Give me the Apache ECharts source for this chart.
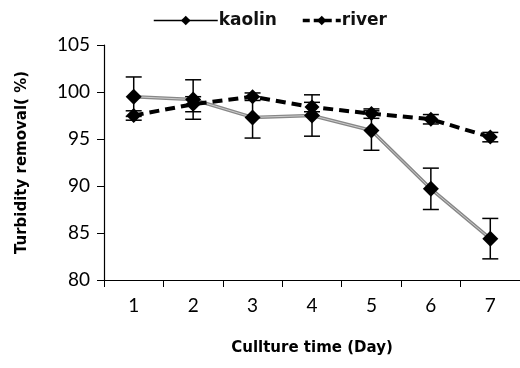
<!DOCTYPE html>
<html>
<head>
<meta charset="utf-8">
<script src="https://cdn.jsdelivr.net/npm/echarts@6/dist/echarts.min.js"></script>
<style>
  html, body { margin: 0; padding: 0; background: #fff; }
  #chart { width: 520px; height: 368px; }
</style>
</head>
<body>
<div id="chart"></div>
<script>
// 数据
var days = ['1', '2', '3', '4', '5', '6', '7'];
var kaolin = [99.5, 99.2, 97.3, 97.5, 95.9, 89.7, 84.4];
var kaolinErr = [2.1, 2.1, 2.2, 2.2, 2.1, 2.2, 2.15];
var river = [97.5, 98.7, 99.5, 98.4, 97.7, 97.1, 95.2];
var riverErr = [0.5, 0.8, 0.4, 0.5, 0.5, 0.5, 0.5];
var yTicks = [80, 85, 90, 95, 100, 105];

var font = 'Lato, "Open Sans", sans-serif';
var titleFont = '"DejaVu Sans", sans-serif';

function errBars(vals, errs) {
  return vals.map(function (v, i) { return [i, v - errs[i], v + errs[i]]; });
}

function errRender(params, api) {
  var x = api.value(0);
  var lo = api.coord([x, api.value(1)]);
  var hi = api.coord([x, api.value(2)]);
  var w = 8;
  var st = { stroke: '#000', lineWidth: 1.5 };
  return {
    type: 'group',
    children: [
      { type: 'line', shape: { x1: hi[0], y1: hi[1], x2: lo[0], y2: lo[1] }, style: st },
      { type: 'line', shape: { x1: hi[0] - w, y1: hi[1], x2: hi[0] + w, y2: hi[1] }, style: st },
      { type: 'line', shape: { x1: lo[0] - w, y1: lo[1], x2: lo[0] + w, y2: lo[1] }, style: st }
    ]
  };
}

var legendText = { fontSize: 17, fontWeight: 'bold', color: '#111', fontFamily: titleFont, padding: [0, 0, 0, -4] };

var chart = echarts.init(document.getElementById('chart'));
chart.setOption({
  animation: false,
  textStyle: { fontFamily: font },
  legend: [
    {
      top: 7,
      left: 148,
      itemWidth: 64,
      itemHeight: 12,
      textStyle: legendText,
      data: [{ name: 'kaolin', lineStyle: { color: '#000', width: 1.5 } }]
    },
    {
      top: 7,
      left: 296,
      itemWidth: 38,
      itemHeight: 12,
      textStyle: legendText,
      data: [{ name: 'river', lineStyle: { color: '#000', width: 3.5, type: [7, 4] } }]
    }
  ],
  grid: { left: 104, top: 45, right: -4, bottom: 88 },
  xAxis: {
    type: 'category',
    data: days,
    boundaryGap: true,
    name: 'Cullture time (Day)',
    nameLocation: 'middle',
    nameGap: 61,
    nameTextStyle: { fontSize: 15, fontWeight: 'bold', color: '#000', fontFamily: titleFont },
    axisLine: { lineStyle: { color: '#000', width: 1.2 } },
    axisTick: { show: true, length: 7, lineStyle: { color: '#000' } },
    axisLabel: { fontSize: 19, color: '#000', margin: 16 }
  },
  yAxis: {
    type: 'value',
    min: yTicks[0],
    max: yTicks[yTicks.length - 1],
    interval: 5,
    name: 'Turbidity removal( %)',
    nameLocation: 'middle',
    nameGap: 74,
    nameTextStyle: { fontSize: 15, fontWeight: 'bold', color: '#000', fontFamily: titleFont },
    splitLine: { show: false },
    axisLine: { show: true, lineStyle: { color: '#000', width: 1.2 } },
    axisTick: { show: true, length: 7, lineStyle: { color: '#000' } },
    axisLabel: { fontSize: 19, color: '#000', margin: 14 }
  },
  series: [
    {
      name: 'kaolin',
      type: 'line',
      data: kaolin,
      symbol: 'diamond',
      symbolSize: 16,
      itemStyle: { color: '#000' },
      lineStyle: { color: '#888', width: 3.5 },
      z: 3
    },
    {
      name: 'kaolin-inner',
      type: 'line',
      data: kaolin,
      symbol: 'none',
      lineStyle: { color: '#ccc', width: 1 },
      silent: true,
      z: 3
    },
    {
      name: 'river',
      type: 'line',
      data: river,
      symbol: 'diamond',
      symbolSize: 15,
      itemStyle: { color: '#000' },
      lineStyle: { color: '#000', width: 4, type: [10, 6] },
      z: 4
    },
    {
      type: 'custom',
      data: errBars(kaolin, kaolinErr),
      renderItem: errRender,
      encode: { x: 0, y: [1, 2] },
      z: 2,
      silent: true
    },
    {
      type: 'custom',
      data: errBars(river, riverErr),
      renderItem: errRender,
      encode: { x: 0, y: [1, 2] },
      z: 2,
      silent: true
    }
  ]
});
</script>
</body>
</html>
